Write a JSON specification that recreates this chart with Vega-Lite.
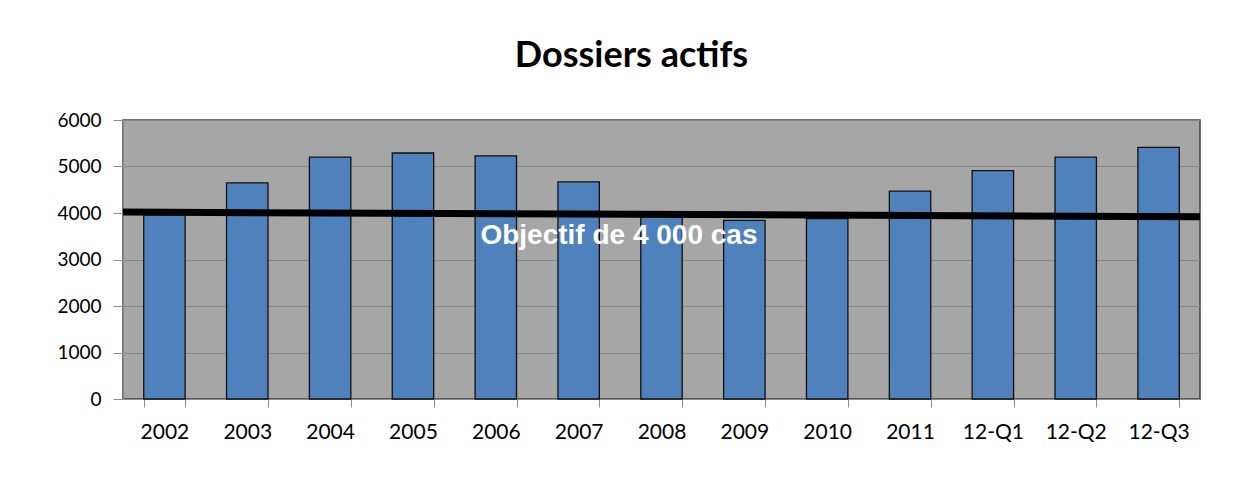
{
  "$schema": "https://vega.github.io/schema/vega-lite/v6.json",
  "width": 1077,
  "height": 279,
  "autosize": {"type": "none"},
  "padding": {"left": 123, "top": 120, "right": 49, "bottom": 92},
  "background": "white",
  "title": {
    "text": "Dossiers actifs",
    "font": "Lato, sans-serif",
    "fontSize": 36,
    "fontWeight": "bold",
    "color": "black",
    "anchor": "middle",
    "baseline": "alphabetic",
    "offset": 8,
    "dx": -30
  },
  "config": {
    "view": {"fill": "#A6A6A6", "stroke": "#404040", "strokeWidth": 1.5}
  },
  "layer": [
    {
      "data": {"values": [
        {"periode": "2002", "dossiers": 3960},
        {"periode": "2003", "dossiers": 4650},
        {"periode": "2004", "dossiers": 5200},
        {"periode": "2005", "dossiers": 5290},
        {"periode": "2006", "dossiers": 5230},
        {"periode": "2007", "dossiers": 4670},
        {"periode": "2008", "dossiers": 3920},
        {"periode": "2009", "dossiers": 3840},
        {"periode": "2010", "dossiers": 3880},
        {"periode": "2011", "dossiers": 4470},
        {"periode": "12-Q1", "dossiers": 4910},
        {"periode": "12-Q2", "dossiers": 5200},
        {"periode": "12-Q3", "dossiers": 5410}
      ]},
      "mark": {"type": "bar", "color": "#4F81BD", "stroke": "#111111", "strokeWidth": 1.3},
      "encoding": {
        "x": {
          "field": "periode", "type": "nominal", "sort": null,
          "scale": {"paddingInner": 0.5, "paddingOuter": 0.25},
          "axis": {
            "title": null, "labelAngle": 0, "tickBand": "extent",
            "domainColor": "#8c8c8c", "tickColor": "#8c8c8c", "tickSize": 8,
            "labelFont": "Lato, sans-serif",
            "labelFontSize": 21, "labelColor": "black", "labelPadding": 14
          }
        },
        "y": {
          "field": "dossiers", "type": "quantitative",
          "scale": {"domain": [0, 6000], "nice": false},
          "axis": {
            "title": null, "values": [0, 1000, 2000, 3000, 4000, 5000, 6000], "format": "d",
            "grid": true, "gridColor": "#868686", "gridWidth": 1.2,
            "domainColor": "#8c8c8c", "tickColor": "#8c8c8c", "tickSize": 10,
            "labelFont": "Lato, sans-serif",
            "labelFontSize": 19, "labelColor": "black", "labelPadding": 12
          }
        }
      }
    },
    {
      "data": {"values": [
        {"t": 0, "objectif": 4020},
        {"t": 1, "objectif": 3920}
      ]},
      "mark": {"type": "line", "color": "black", "strokeWidth": 7, "strokeCap": "butt"},
      "encoding": {
        "x": {"field": "t", "type": "quantitative", "scale": {"domain": [0, 1], "nice": false, "zero": false}, "axis": null},
        "y": {"field": "objectif", "type": "quantitative"}
      }
    },
    {
      "data": {"values": [
        {"t": 0.4605, "pos": 3505, "label": "Objectif de 4 000 cas"}
      ]},
      "mark": {"type": "text", "color": "white", "font": "'Liberation Sans', Arial, sans-serif", "fontWeight": "bold", "fontSize": 28, "align": "center", "baseline": "middle"},
      "encoding": {
        "x": {"field": "t", "type": "quantitative", "scale": {"domain": [0, 1], "nice": false, "zero": false}, "axis": null},
        "y": {"field": "pos", "type": "quantitative"},
        "text": {"field": "label"}
      }
    }
  ],
  "resolve": {"scale": {"x": "independent"}}
}
